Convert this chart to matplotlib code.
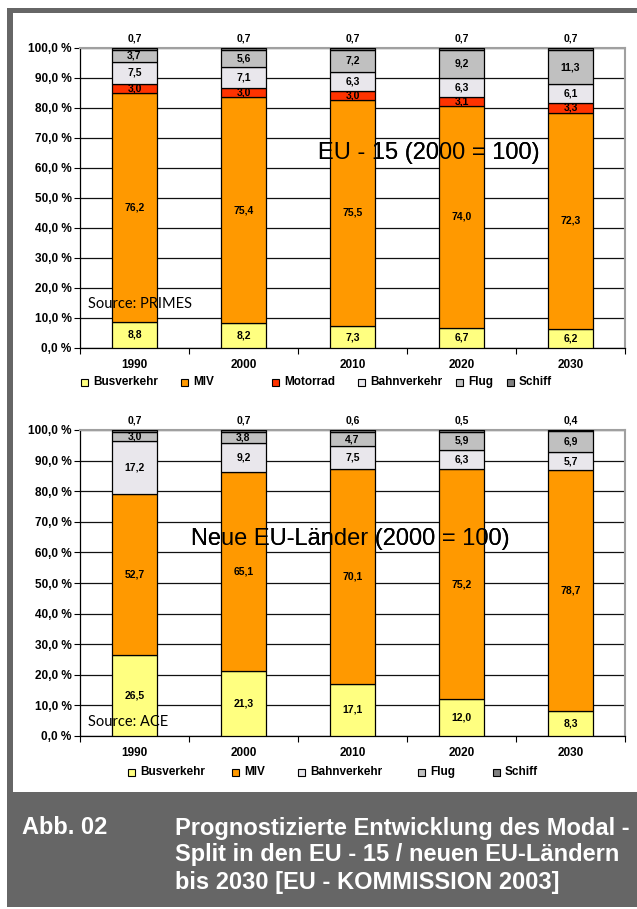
import numpy as np
import matplotlib.pyplot as plt
from matplotlib.patches import Rectangle

plt.rcParams['font.family'] = ['Liberation Sans', 'DejaVu Sans']

years = ['1990', '2000', '2010', '2020', '2030']

# EU-15 modal split (%)
eu15_bus = [8.8, 8.2, 7.3, 6.7, 6.2]
eu15_miv = [76.2, 75.4, 75.5, 74.0, 72.3]
eu15_motorrad = [3.0, 3.0, 3.0, 3.1, 3.3]
eu15_bahn = [7.5, 7.1, 6.3, 6.3, 6.1]
eu15_flug = [3.7, 5.6, 7.2, 9.2, 11.3]
eu15_schiff = [0.7, 0.7, 0.7, 0.7, 0.7]

# neue EU-Laender modal split (%)
neu_bus = [26.5, 21.3, 17.1, 12.0, 8.3]
neu_miv = [52.7, 65.1, 70.1, 75.2, 78.7]
neu_bahn = [17.2, 9.2, 7.5, 6.3, 5.7]
neu_flug = [3.0, 3.8, 4.7, 5.9, 6.9]
neu_schiff = [0.7, 0.7, 0.6, 0.5, 0.4]

colors = {
    'Busverkehr': '#FFFF80',
    'MIV': '#FF9900',
    'Motorrad': '#FF3300',
    'Bahnverkehr': '#E9E7EC',
    'Flug': '#C0C0C0',
    'Schiff': '#808080',
}

W, H = 637, 909
fig = plt.figure(figsize=(W / 100, H / 100), dpi=100)
fig.patch.set_facecolor('white')


def fx(x):
    return x / W


def fy(y):
    return 1 - y / H


def de(v):
    return f'{v:.1f}'.replace('.', ',')


def draw_chart(ax, series, title, title_xy, source, source_y):
    x = np.arange(len(years))
    bottom = np.zeros(len(years))
    for name, vals in series:
        vals = np.array(vals)
        ax.bar(x, vals, 0.41, bottom=bottom, color=colors[name],
               edgecolor='black', linewidth=0.9, zorder=3)
        for xi, b, v in zip(x, bottom, vals):
            if name == 'Schiff':
                ax.annotate(de(v), (xi, 100), xytext=(0, 3), textcoords='offset points',
                            ha='center', va='bottom', fontsize=7.5, fontweight='bold',
                            zorder=6, annotation_clip=False)
            else:
                ax.text(xi, b + v / 2, de(v), ha='center', va='center',
                        fontsize=7.5, fontweight='bold', zorder=6)
        bottom += vals

    ax.set_xlim(-0.5, len(years) - 0.5)
    ax.set_ylim(0, 100)
    ax.set_yticks(np.arange(0, 101, 10))
    ax.set_yticklabels([f'{v:.1f} %'.replace('.', ',') for v in np.arange(0, 101, 10)],
                       fontsize=8.5, fontweight='bold')
    ax.set_xticks(np.arange(-0.5, len(years), 1))
    ax.set_xticklabels([])
    ax.set_xticks(x, minor=True)
    ax.set_xticklabels(years, minor=True, fontsize=8.5, fontweight='bold')
    ax.tick_params(axis='x', which='major', length=4, direction='out', width=0.8)
    ax.tick_params(axis='x', which='minor', length=0, pad=8)
    ax.tick_params(axis='y', length=4, direction='out', width=0.8, pad=2)
    ax.grid(axis='y', color='#111111', linewidth=0.9, zorder=1)
    ax.set_axisbelow(True)
    for s in ('top', 'right'):
        ax.spines[s].set_color('#A0A0A0')
        ax.spines[s].set_linewidth(1.5)
    for s in ('left', 'bottom'):
        ax.spines[s].set_color('black')
        ax.spines[s].set_linewidth(0.9)

    # title box behind the bars, text on top
    ax.text(*title_xy, title, ha='center', va='center', fontsize=17, color='black',
            zorder=2, bbox=dict(boxstyle='square,pad=0.05', fc='white', ec='none'))
    ax.text(*title_xy, title, ha='center', va='center', fontsize=17, color='black', zorder=7)
    ax.text(-0.43, source_y, source, ha='left', va='center', fontsize=10.5,
            family=['Lato', 'DejaVu Sans'], zorder=7)


def draw_legend(items, y):
    for name, xs in items:
        fig.patches.append(Rectangle((fx(xs), fy(y + 3.5)), 7 / W, 7 / H,
                                     transform=fig.transFigure, facecolor=colors[name],
                                     edgecolor='black', linewidth=0.8))
        fig.text(fx(xs + 12), fy(y), name, ha='left', va='center',
                 fontsize=8.5, fontweight='bold')


ax1 = fig.add_axes([fx(80), fy(348), fx(625) - fx(80), (348 - 48) / H])
draw_chart(ax1, [('Busverkehr', eu15_bus), ('MIV', eu15_miv), ('Motorrad', eu15_motorrad),
                 ('Bahnverkehr', eu15_bahn), ('Flug', eu15_flug), ('Schiff', eu15_schiff)],
           'EU - 15 (2000 = 100)', (2.7, 65), 'Source: PRIMES', 14.5)
draw_legend([('Busverkehr', 81), ('MIV', 181), ('Motorrad', 272),
             ('Bahnverkehr', 358), ('Flug', 456), ('Schiff', 507)], 382)

ax2 = fig.add_axes([fx(80), fy(736), fx(625) - fx(80), (736 - 430) / H])
draw_chart(ax2, [('Busverkehr', neu_bus), ('MIV', neu_miv), ('Bahnverkehr', neu_bahn),
                 ('Flug', neu_flug), ('Schiff', neu_schiff)],
           'Neue EU-Länder (2000 = 100)', (1.98, 64.5), 'Source: ACE', 4.5)
draw_legend([('Busverkehr', 128), ('MIV', 232), ('Bahnverkehr', 298),
             ('Flug', 418), ('Schiff', 493)], 772)

# frame and caption band
frame = '#666666'
fig.patches.append(Rectangle((fx(7), fy(13)), 1 - fx(7), 5 / H, transform=fig.transFigure,
                             facecolor=frame, edgecolor='none'))
fig.patches.append(Rectangle((fx(7), fy(795)), 6 / W, (795 - 8) / H, transform=fig.transFigure,
                             facecolor=frame, edgecolor='none'))
fig.patches.append(Rectangle((fx(7), fy(907)), 1 - fx(7), (907 - 792) / H,
                             transform=fig.transFigure, facecolor=frame, edgecolor='none'))

cap = dict(fontsize=17, fontweight='bold', color='white', ha='left', va='center')
fig.text(fx(22), fy(828), 'Abb. 02', **cap)
fig.text(fx(175), fy(828), 'Prognostizierte Entwicklung des Modal -', **cap)
fig.text(fx(175), fy(855), 'Split in den EU - 15 / neuen EU-Ländern', **cap)
fig.text(fx(175), fy(882), 'bis 2030 [EU - KOMMISSION 2003]', **cap)

fig.savefig('out.png', dpi=100)
